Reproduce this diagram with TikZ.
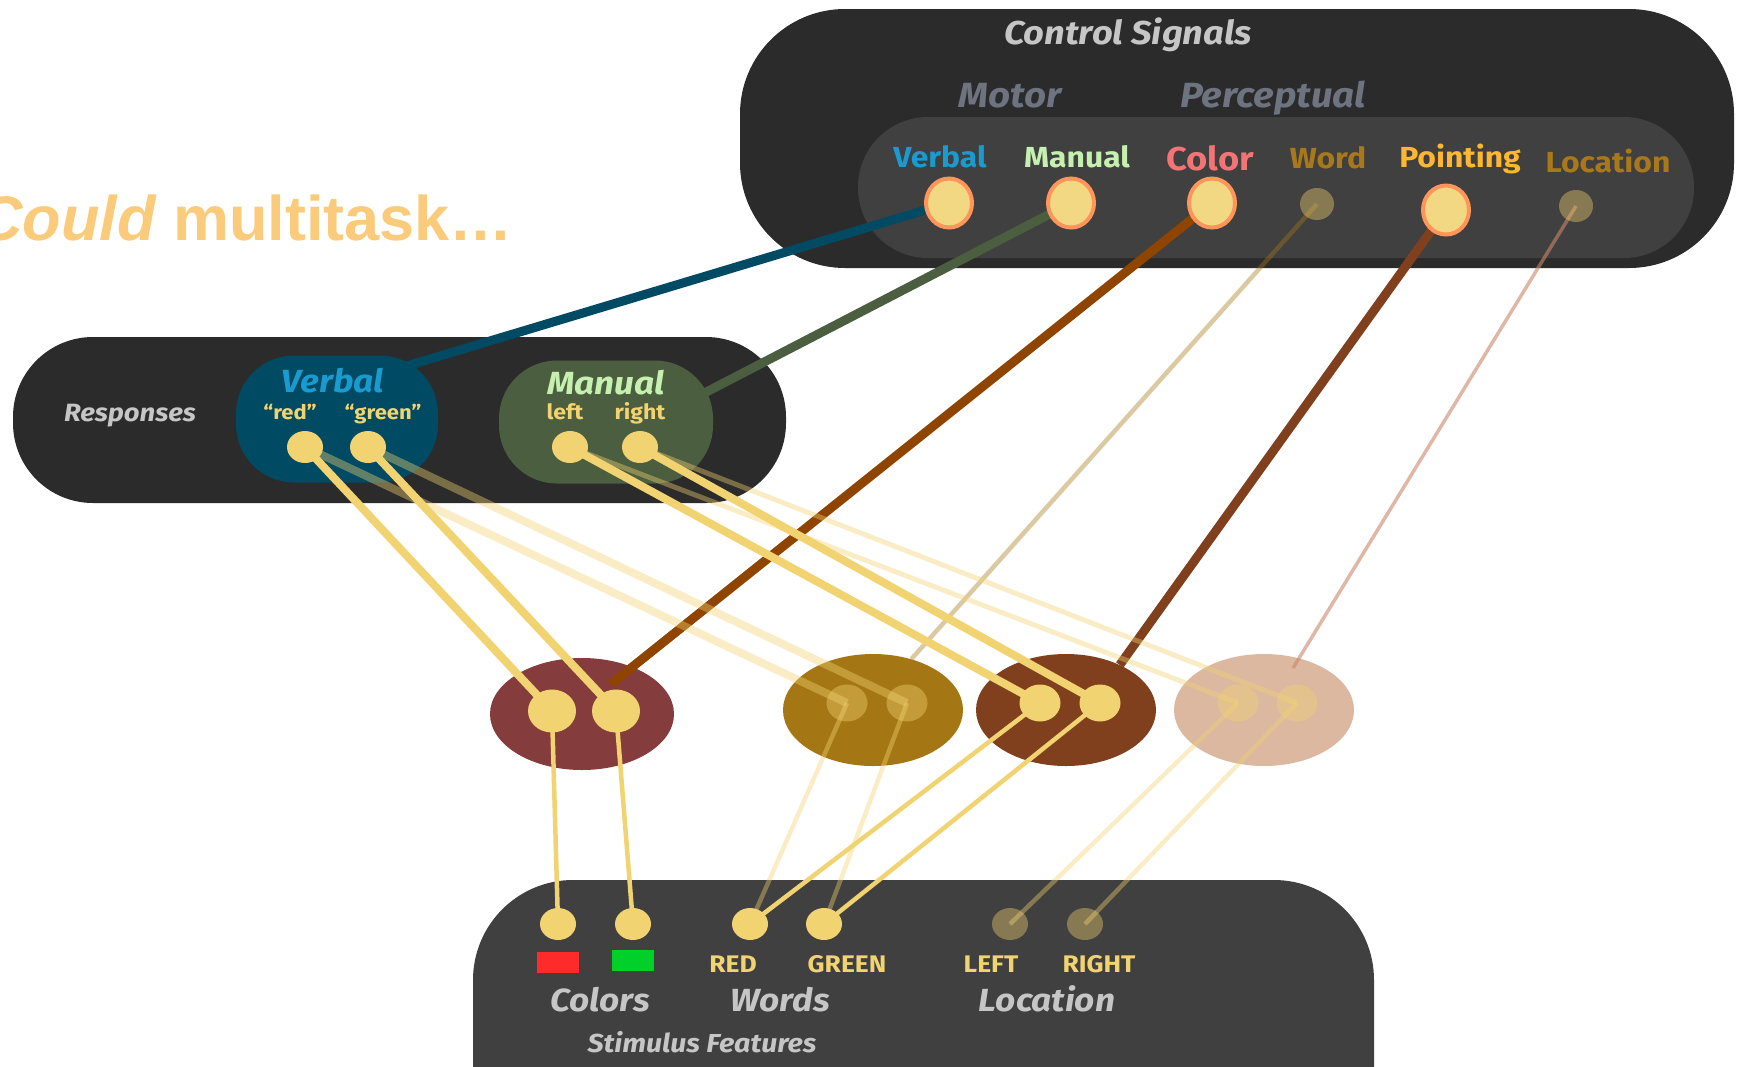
\documentclass[tikz,border=0pt]{standalone}
\usepackage{fontspec}
\setmainfont{Fira Sans}[FakeStretch=1.1]
\newfontfamily\arialfont{Liberation Sans}
\usetikzlibrary{shapes.geometric,calc}
\pgfdeclarelayer{back}
\pgfdeclarelayer{lowlinks}
\pgfdeclarelayer{blobs}
\pgfdeclarelayer{links}
\pgfsetlayers{back,lowlinks,blobs,links,main}

\definecolor{boxdark}{HTML}{2B2B2B}
\definecolor{boxgrey}{HTML}{404040}
\definecolor{txtgrey}{HTML}{C6C6C6}
\definecolor{subgrey}{HTML}{6E7380}
\definecolor{verbalblue}{HTML}{1A9BD0}
\definecolor{manualgreen}{HTML}{C6F0B0}
\definecolor{colorred}{HTML}{F27474}
\definecolor{wordgold}{HTML}{A8781A}
\definecolor{pointorange}{HTML}{FFB732}
\definecolor{dotyellow}{HTML}{F2D371}
\definecolor{dotfill}{HTML}{F2D882}
\definecolor{dotrim}{HTML}{FF955A}
\definecolor{verbalteal}{HTML}{004A63}
\definecolor{manualolive}{HTML}{4B5E3F}
\definecolor{colorbrown}{HTML}{8F4400}
\definecolor{colormaroon}{HTML}{843C3C}
\definecolor{wordochre}{HTML}{A47714}
\definecolor{pointbrown}{HTML}{81401D}
\definecolor{locsand}{HTML}{DCB8A0}
\definecolor{locline}{HTML}{C8876A}
\definecolor{multiorange}{HTML}{F9CB7A}
\definecolor{stimred}{HTML}{FF2A2A}
\definecolor{stimgreen}{HTML}{00D02A}

\tikzset{
  ctrldot/.style={ellipse, fill=dotfill, draw=dotrim, line width=4pt, minimum width=46pt, minimum height=49pt, inner sep=0},
  ctrldim/.style={ellipse, fill=dotyellow, fill opacity=.4, minimum width=34pt, minimum height=32pt, inner sep=0},
  featdot/.style={ellipse, fill=dotyellow, minimum width=36pt, minimum height=32pt, inner sep=0},
  featdim/.style={featdot, fill opacity=.4},
  hub/.style={ellipse, minimum width=180pt, minimum height=112pt, inner sep=0},
  hubdot/.style={ellipse, fill=dotyellow, minimum width=41pt, minimum height=37pt, inner sep=0},
  hubdim/.style={hubdot, fill opacity=.4},
  blob/.style={rectangle, rounded corners=58pt, inner sep=0},
  txt/.style={inner sep=0, anchor=base, font=\bfseries\fontsize{#1}{#1}\selectfont},
  itxt/.style={inner sep=0, anchor=base, font=\bfseries\itshape\fontsize{#1}{#1}\selectfont},
  cue/.style={line width=9pt},
  tie/.style={draw=dotyellow, line width=8pt},
  thintie/.style={draw=dotyellow, line width=4.5pt},
  faint/.style={opacity=.4}
}

\begin{document}
\begin{tikzpicture}[x=1pt,y=-1pt]
\useasboundingbox (0,0) rectangle (1742,1066);

\begin{pgfonlayer}{back}
\fill[boxdark, rounded corners=105pt] (740,9) rectangle (1734,268);
\fill[boxgrey, rounded corners=70pt] (858,117) rectangle (1694,258);
\fill[boxdark, rounded corners=80pt] (13,337) rectangle (786,503);
\fill[boxgrey, rounded corners=100pt] (473,880) rectangle (1374,1180);
\end{pgfonlayer}

\begin{pgfonlayer}{blobs}
\node[blob, fill=verbalteal, minimum width=202pt, minimum height=127pt] (rVerbal) at (337,419) {};
\node[blob, fill=manualolive, minimum width=214pt, minimum height=123pt] (rManual) at (606,422) {};
\node[hub, fill=colormaroon, minimum width=184pt] (hColor) at (582,714) {};
\node[hub, fill=wordochre] (hWord) at (873,710) {};
\node[hub, fill=pointbrown] (hPoint) at (1066,710) {};
\node[hub, fill=locsand] (hLoc) at (1264,710) {};
\end{pgfonlayer}

\node[anchor=base east, inner sep=0, text=multiorange, font=\arialfont\bfseries\fontsize{63}{63}\selectfont] (tMulti) at (513,240) {{\itshape Could} multitask…};

\node[itxt=33, text=txtgrey] (tControl) at (1128,44) {Control Signals};
\node[itxt=35, text=subgrey] (tMotor) at (1010,107) {Motor};
\node[itxt=35, text=subgrey] (tPercept) at (1273,107) {Perceptual};
\node[txt=29, text=verbalblue] (tVerbal) at (940,167) {Verbal};
\node[txt=29, text=manualgreen] (tManual) at (1077,167) {Manual};
\node[txt=33, text=colorred] (tColor) at (1210,170) {Color};
\node[txt=29, text=wordgold] (tWord) at (1328,168) {Word};
\node[txt=29, text=pointorange] (tPoint) at (1460,167) {Pointing};
\node[txt=29, text=wordgold] (tLoc) at (1608,172) {Location};

\node[ctrldot] (csVerbal) at (949,203) {};
\node[ctrldot] (csManual) at (1071,203) {};
\node[ctrldot] (csColor) at (1212,203) {};
\node[ctrldim] (csWord) at (1317,204) {};
\node[ctrldot] (csPoint) at (1446,210) {};
\node[ctrldim] (csLoc) at (1576,206) {};

\node[itxt=25, text=txtgrey] (tResp) at (130,421) {Responses};
\node[itxt=32, text=verbalblue] (tRVerbal) at (333,392) {Verbal};
\node[txt=20, text=dotyellow] (tRed) at (290,419) {“red”};
\node[txt=20, text=dotyellow] (tGreen) at (383,419) {“green”};
\node[itxt=32, text=manualgreen] (tRManual) at (606,394) {Manual};
\node[txt=21, text=dotyellow] (tLeft) at (565,419) {left};
\node[txt=21, text=dotyellow] (tRight) at (640,419) {right};

\node[featdot] (rRed) at (305,447) {};
\node[featdot] (rGreen) at (368,447) {};
\node[featdot] (rLeft) at (570,447) {};
\node[featdot] (rRight) at (640,447) {};

\node[hubdot, minimum width=48pt, minimum height=43pt] (hC1) at (552,711) {};
\node[hubdot, minimum width=48pt, minimum height=43pt] (hC2) at (616,711) {};
\node[hubdim] (hW1) at (847,703) {};
\node[hubdim] (hW2) at (907,703) {};
\node[hubdot] (hP1) at (1040,703) {};
\node[hubdot] (hP2) at (1100,703) {};
\node[hubdim] (hL1) at (1238,703) {};
\node[hubdim] (hL2) at (1297,703) {};

\node[featdot] (sC1) at (558,924) {};
\node[featdot] (sC2) at (633,924) {};
\node[featdot] (sW1) at (750,924) {};
\node[featdot] (sW2) at (824,924) {};
\node[featdim] (sL1) at (1010,924) {};
\node[featdim] (sL2) at (1085,924) {};

\node[fill=stimred, minimum width=42pt, minimum height=21pt, inner sep=0] (sqRed) at (558,962.5) {};
\node[fill=stimgreen, minimum width=42pt, minimum height=21pt, inner sep=0] (sqGreen) at (633,960) {};
\node[txt=24, text=dotyellow] (tSRed) at (733,972) {RED};
\node[txt=24, text=dotyellow] (tSGreen) at (847,972) {GREEN};
\node[txt=24, text=dotyellow] (tSLeft) at (991,972) {LEFT};
\node[txt=24, text=dotyellow] (tSRight) at (1099,972) {RIGHT};
\node[itxt=32, text=txtgrey] (tColors) at (600,1011) {Colors};
\node[itxt=32, text=txtgrey] (tWords) at (780,1011) {Words};
\node[itxt=32, text=txtgrey] (tLocation) at (1047,1011) {Location};
\node[itxt=26, text=txtgrey] (tStim) at (702,1052) {Stimulus Features};

\coordinate (rVerbalIn) at ($(rVerbal)+(43,-45)$);
\coordinate (rManualIn) at ($(rManual)+(54,-6)$);
\coordinate (hColorIn) at ($(hColor)+(29,-30)$);
\coordinate (hLocIn) at ($(hLoc)+(29,-42)$);

\begin{pgfonlayer}{lowlinks}
\draw[cue, verbalteal] (csVerbal.center) -- (rVerbalIn);
\draw[cue, manualolive] (csManual.center) -- (rManualIn);
\end{pgfonlayer}

\begin{pgfonlayer}{links}
\draw[cue, colorbrown] (csColor.center) -- (hColorIn);
\draw[line width=4.5pt, wordochre, faint] (csWord.center) -- (hWord.53);
\draw[cue, pointbrown] (csPoint.center) -- (hPoint.40);
\draw[line width=3.5pt, locline, opacity=.6] (csLoc.center) -- (hLocIn);

\draw[tie] (rRed.center) -- (hC1.center);
\draw[tie] (rGreen.center) -- (hC2.center);
\draw[tie] (rLeft.center) -- (hP1.center);
\draw[tie] (rRight.center) -- (hP2.center);
\draw[tie, faint] (rRed.center) -- (hW1.center);
\draw[tie, faint] (rGreen.center) -- (hW2.center);
\draw[tie, faint, line width=5pt] (rLeft.center) -- (hL1.center);
\draw[tie, faint, line width=5pt] (rRight.center) -- (hL2.center);

\draw[thintie] (hC1.center) -- (sC1.center);
\draw[thintie] (hC2.center) -- (sC2.center);
\draw[thintie] (hP1.center) -- (sW1.center);
\draw[thintie] (hP2.center) -- (sW2.center);
\draw[thintie, faint] (hW1.center) -- (sW1.center);
\draw[thintie, faint] (hW2.center) -- (sW2.center);
\draw[thintie, faint] (hL1.center) -- (sL1.center);
\draw[thintie, faint] (hL2.center) -- (sL2.center);
\end{pgfonlayer}
\end{tikzpicture}
\end{document}
